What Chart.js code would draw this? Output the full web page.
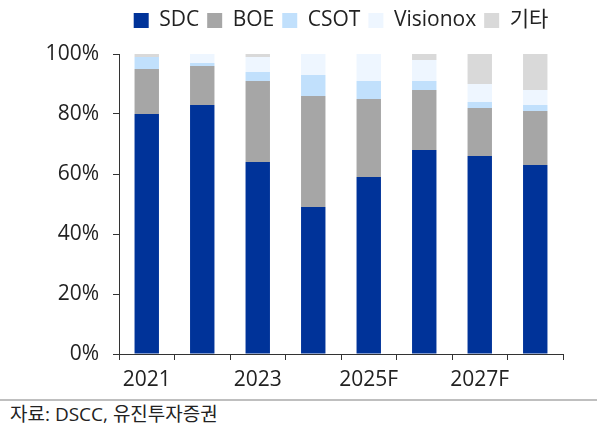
<!DOCTYPE html>
<html>
<head>
<meta charset="utf-8">
<script src="https://cdn.jsdelivr.net/npm/chart.js@4"></script>
<style>
    body { margin: 0; background: #fff; font-family: "Open Sans", "Noto Sans CJK KR", sans-serif; }
    #wrap { width: 597px; height: 398px; position: relative; }
    #source { border-top: 2px solid #bfbfbf; margin-top: 1px; padding: 1px 0 0 10px; font-size: 19px; color: #222; line-height: 24px; }
</style>
</head>
<body>
<div id="wrap"><canvas id="shareChart"></canvas></div>
<div id="source">자료: DSCC, 유진투자증권</div>
<script>
const years = ['2021', '2022', '2023', '2024', '2025F', '2026F', '2027F', '2028F'];
const sdc = [80, 83, 64, 49, 59, 68, 66, 63];
const boe = [15, 13, 27, 37, 26, 20, 16, 18];
const csot = [4, 1, 3, 7, 6, 3, 2, 2];
const visionox = [0, 3, 5, 7, 9, 7, 6, 5];
const others = [1, 0, 1, 0, 0, 2, 10, 12];
const yTicks = [0, 20, 40, 60, 80, 100];

// extra room between legend and plot
const legendGap = {
    id: 'legendGap',
    beforeLayout(chart) {
        const lg = chart.legend;
        if (lg && !lg._gapPatched) {
            const fit = lg.fit;
            lg.fit = function() {
                fit.call(this);
                this.height += 13;
            };
            lg._gapPatched = true;
        }
    }
};

document.addEventListener('DOMContentLoaded', () => {
    const ctx = document.getElementById('shareChart').getContext('2d');
    const fontBase = { family: '"Open Sans", "Noto Sans CJK KR", sans-serif', size: 21 };

    new Chart(ctx, {
        type: 'bar',
        data: {
            labels: years,
            datasets: [
                { label: 'SDC', data: sdc, backgroundColor: '#003399' },
                { label: 'BOE', data: boe, backgroundColor: '#a6a6a6' },
                { label: 'CSOT', data: csot, backgroundColor: '#c1e0fc' },
                { label: 'Visionox', data: visionox, backgroundColor: '#eef6ff' },
                { label: '기타', data: others, backgroundColor: '#d9d9d9' }
            ]
        },
        plugins: [legendGap],
        options: {
            responsive: true,
            maintainAspectRatio: false,
            animation: false,
            datasets: {
                bar: { barPercentage: 0.44, categoryPercentage: 1 }
            },
            layout: { padding: { left: 0, right: 34, top: 2, bottom: 0 } },
            plugins: {
                legend: {
                    position: 'top',
                    fullSize: false,
                    labels: {
                        boxWidth: 15,
                        boxHeight: 15,
                        padding: 8,
                        color: '#222',
                        font: fontBase
                    }
                },
                tooltip: { enabled: false }
            },
            scales: {
                x: {
                    stacked: true,
                    offset: true,
                    border: { color: '#333', width: 1 },
                    grid: {
                        offset: true,
                        drawOnChartArea: false,
                        drawTicks: true,
                        tickLength: 6,
                        color: '#333'
                    },
                    afterFit: function(axis) { axis.height = 44; },
                    ticks: {
                        autoSkip: false,
                        maxRotation: 0,
                        color: '#222',
                        font: fontBase,
                        padding: 7,
                        callback: function(value, index) {
                            return index % 2 === 0 ? years[index] : '';
                        }
                    }
                },
                y: {
                    stacked: true,
                    min: 0,
                    max: 100,
                    border: { color: '#333', width: 1 },
                    grid: {
                        drawOnChartArea: false,
                        drawTicks: true,
                        tickLength: 6,
                        color: '#333'
                    },
                    afterFit: function(axis) { axis.width = 119; },
                    afterBuildTicks: function(axis) {
                        axis.ticks = yTicks.map(v => ({ value: v }));
                    },
                    ticks: {
                        color: '#222',
                        font: fontBase,
                        padding: 14,
                        callback: function(value) {
                            return value + '%';
                        }
                    }
                }
            }
        }
    });
});
</script>
</body>
</html>
